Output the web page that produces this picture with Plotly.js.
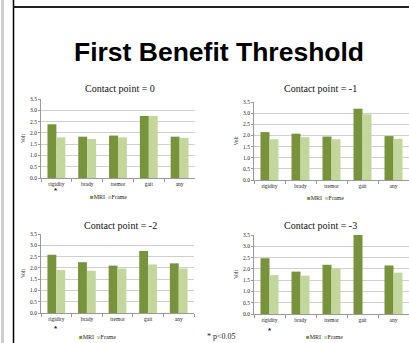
<!DOCTYPE html>
<html><head><meta charset="utf-8">
<script src="https://cdn.plot.ly/plotly-3.0.1.min.js"></script>
<style>html,body{margin:0;padding:0;background:#fff;overflow:hidden}#c{width:409px;height:343px}</style>
</head><body><div id="c"></div>
<script>
const categories = ["rigidity","brady","tremor","gait","any"];
const panelTitles = ["Contact point = 0","Contact point = -1","Contact point = -2","Contact point = -3"];
const mri0 = [2.38,1.83,1.88,2.75,1.83];
const frame0 = [1.80,1.73,1.80,2.75,1.78];
const mri1 = [2.15,2.08,1.95,3.20,1.97];
const frame1 = [1.83,1.92,1.83,2.95,1.85];
const mri2 = [2.58,2.25,2.10,2.75,2.20];
const frame2 = [1.90,1.87,1.97,2.15,1.97];
const mri3 = [2.47,1.88,2.18,3.50,2.15];
const frame3 = [1.72,1.70,2.00,null,1.83];
const yTicks = [0,0.5,1,1.5,2,2.5,3,3.5];
const seriesNames = ["MRI","Frame"];
const significant = [true,false,true,true];

const W=409,H=343;
const dark="#77933C", light="#C3D69B";
const px=v=>v/W, py=v=>1-v/H;
const boxes=[[41,195,99,178],[254,409,102,180],[41,194,234,313],[254,409,235,314]];
const data=[[mri0,frame0],[mri1,frame1],[mri2,frame2],[mri3,frame3]];
const traces=[];const layout={width:W,height:H,margin:{l:0,r:0,t:0,b:0},paper_bgcolor:"#fff",plot_bgcolor:"#fff",
 showlegend:false,barmode:"group",bargap:0.42,bargroupgap:0,
 font:{family:"Liberation Serif, serif",color:"#222"},annotations:[],shapes:[]};
const titlePos=[[120,88],[320,88],[120,225],[320,225]];
const legPos=[[108,197],[325,198],[97,337],[324,337]];
const starY=[190,0,328,330];
boxes.forEach((b,i)=>{
 const xa=i===0?"x":"x"+(i+1), ya=i===0?"y":"y"+(i+1);
 const xk=i===0?"xaxis":"xaxis"+(i+1), yk=i===0?"yaxis":"yaxis"+(i+1);
 [0,1].forEach(s=>traces.push({type:"bar",x:categories,y:data[i][s],name:seriesNames[s],xaxis:xa,yaxis:ya,
   marker:{color:s===0?dark:light,line:{width:0}},hoverinfo:"x+y+name"}));
 layout[xk]={domain:[px(b[0]),px(b[1])],anchor:ya,type:"category",showline:true,linecolor:"#999",linewidth:1,
   ticks:"outside",tickson:"boundaries",ticklen:3,tickcolor:"#999",tickfont:{size:5.5,family:"Liberation Serif, serif"},showgrid:false,fixedrange:true};
 layout[yk]={domain:[py(b[3]),py(b[2])],anchor:xa,range:[0,3.5],tickvals:yTicks,tickformat:".1f",showline:true,linecolor:"#999",
   ticks:"outside",ticklen:2,tickcolor:"#999",gridcolor:"#cfcfcf",gridwidth:1,zeroline:false,
   tickfont:{size:5.5,family:"Liberation Serif, serif"},title:{text:"Volt",font:{size:5.5},standoff:4},fixedrange:true};
 layout.annotations.push({xref:"paper",yref:"paper",x:px(titlePos[i][0]),y:py(titlePos[i][1]),xanchor:"center",yanchor:"middle",
   text:panelTitles[i],showarrow:false,font:{size:10,family:"Liberation Serif, serif",color:"#111"}});
 layout.annotations.push({xref:"paper",yref:"paper",x:px(legPos[i][0]),y:py(legPos[i][1]),xanchor:"center",yanchor:"middle",showarrow:false,
   text:"<span style='color:"+dark+"'>■</span>"+seriesNames[0]+"  <span style='color:"+light+"'>■</span>"+seriesNames[1],
   font:{size:6,family:"Liberation Serif, serif",color:"#222"}});
 if(significant[i]) layout.annotations.push({xref:xa,yref:"paper",x:0,y:py(starY[i]),xanchor:"center",yanchor:"middle",showarrow:false,
   text:"<b>*</b>",font:{size:8,family:"Liberation Sans, sans-serif",color:"#222"}});
});
layout.annotations.push({xref:"paper",yref:"paper",x:px(219),y:py(52),xanchor:"center",yanchor:"middle",showarrow:false,
 text:"<b>First Benefit Threshold</b>",font:{size:26.5,family:"Liberation Sans, Arial, sans-serif",color:"#000"}});
layout.annotations.push({xref:"paper",yref:"paper",x:px(205),y:py(336),xanchor:"left",yanchor:"middle",showarrow:false,
 text:"* p<0.05",font:{size:8,family:"Liberation Serif, serif",color:"#222"}});
layout.shapes.push({type:"rect",xref:"paper",yref:"paper",x0:px(1),x1:px(4),y0:0,y1:1,fillcolor:"#cfcfcf",line:{width:0},layer:"below"});
layout.shapes.push({type:"line",xref:"paper",yref:"paper",x0:px(13.5),x1:px(13.5),y0:0,y1:1,line:{color:"#000",width:1.5}});
layout.shapes.push({type:"line",xref:"paper",yref:"paper",x0:px(13.5),x1:1,y0:py(7),y1:py(7),line:{color:"#222",width:2}});
Plotly.newPlot("c",traces,layout,{displayModeBar:false,staticPlot:true});
</script></body></html>
